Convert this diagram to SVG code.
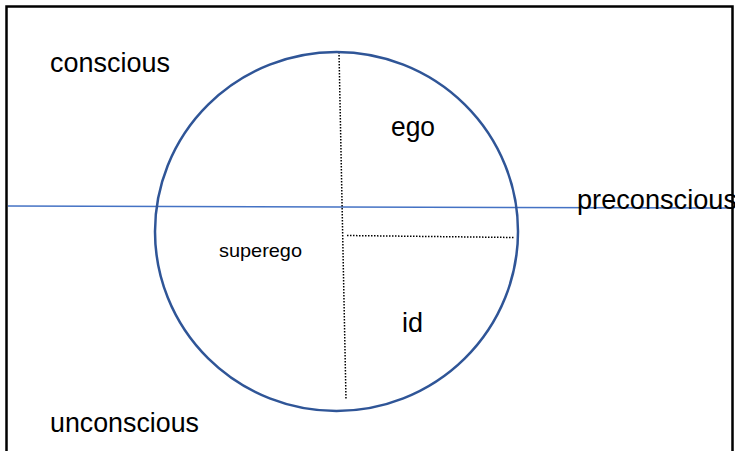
<svg xmlns="http://www.w3.org/2000/svg" width="735" height="451" viewBox="0 0 735 451">
<style>
.lbl{font-family:"Liberation Sans",Arial,sans-serif;fill:#000;}
.big{font-size:27px;}
.small{font-size:19px;}
.dot{stroke:#000;stroke-width:1.5;stroke-dasharray:1.5 1.5;fill:none;}
</style>
<rect x="0" y="0" width="735" height="451" fill="#fff"/>
<g id="connectors">
<line x1="8" y1="206" x2="733" y2="208" stroke="#4472C4" stroke-width="1.5"/>
<line class="dot" x1="339" y1="52" x2="346" y2="400"/>
<line class="dot" x1="347" y1="235.5" x2="514" y2="237.5"/>
</g>
<g id="psyche">
<ellipse cx="336.5" cy="231.5" rx="181.5" ry="179.5" fill="none" stroke="#2F5597" stroke-width="2.5"/>
</g>
<g id="ego"><text class="lbl big" x="391" y="136" textLength="44" lengthAdjust="spacingAndGlyphs">ego</text></g>
<g id="id"><text class="lbl big" x="402" y="332" textLength="21" lengthAdjust="spacingAndGlyphs">id</text></g>
<g id="superego"><text class="lbl small" x="219" y="257" textLength="83" lengthAdjust="spacingAndGlyphs">superego</text></g>
<g id="conscious"><text class="lbl big" x="50" y="72" textLength="120" lengthAdjust="spacingAndGlyphs">conscious</text></g>
<g id="preconscious"><text class="lbl big" x="577" y="209" textLength="160" lengthAdjust="spacingAndGlyphs">preconscious</text></g>
<g id="unconscious"><text class="lbl big" x="50" y="432" textLength="149" lengthAdjust="spacingAndGlyphs">unconscious</text></g>
<g id="frame">
<path d="M6.5 460 V6.5 H732.5 V460" fill="none" stroke="#000" stroke-width="2.5"/>
</g>
</svg>
